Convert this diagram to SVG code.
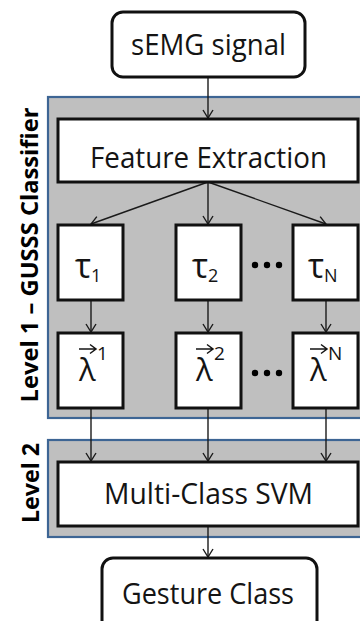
<svg xmlns="http://www.w3.org/2000/svg" width="360" height="621" viewBox="0 0 360 621">
  <defs>
    <marker id="arr" markerUnits="userSpaceOnUse" viewBox="0 0 10 12" markerWidth="10" markerHeight="12" refX="9" refY="6" orient="auto">
      <path d="M1,1 L9,6 L1,11" fill="none" stroke="#1a1a1a" stroke-width="1.4"/>
    </marker>
    <path id="vecarrow" d="M0,0 H17 M11,-4.5 L17,0 L11,4.5" fill="none" stroke="#141414" stroke-width="1.5"/>
  </defs>
  <style>
    .panel { fill: #bfbfbf; stroke: #3d6594; stroke-width: 2.2; }
    .box { fill: #ffffff; stroke: #111111; stroke-width: 3; }
    .lbl { font-family: "Open Sans", "Liberation Sans", sans-serif; font-size: 29px; fill: #141414; text-anchor: middle; }
    .greek { font-family: "Open Sans", "DejaVu Sans", sans-serif; fill: #141414; }
    .side { font-family: "Open Sans", "Liberation Sans", sans-serif; font-weight: bold; font-size: 24px; fill: #000000; text-anchor: middle; }
    .conn { stroke: #1a1a1a; stroke-width: 1.4; fill: none; marker-end: url(#arr); }
    .dot { fill: #000000; }
  </style>

  <rect width="360" height="621" fill="#ffffff"/>

  <g id="panel-level1">
    <rect class="panel" x="48" y="97" width="330" height="321"/>
    <text class="side" transform="translate(38,255) rotate(-90)" textLength="295" lengthAdjust="spacingAndGlyphs">Level 1 – GUSSS Classifier</text>
  </g>
  <g id="panel-level2">
    <rect class="panel" x="48" y="440" width="330" height="97"/>
    <text class="side" transform="translate(39,483) rotate(-90)" textLength="80" lengthAdjust="spacingAndGlyphs">Level 2</text>
  </g>

  <g id="connectors">
    <line class="conn" x1="208" y1="77" x2="208" y2="118"/>
    <line class="conn" x1="208" y1="182" x2="91" y2="224"/>
    <line class="conn" x1="208" y1="182" x2="208" y2="224"/>
    <line class="conn" x1="208" y1="182" x2="326" y2="224"/>
    <line class="conn" x1="91" y1="300" x2="91" y2="332"/>
    <line class="conn" x1="208" y1="300" x2="208" y2="332"/>
    <line class="conn" x1="326" y1="300" x2="326" y2="332"/>
    <line class="conn" x1="91" y1="408" x2="91" y2="461"/>
    <line class="conn" x1="208" y1="408" x2="208" y2="461"/>
    <line class="conn" x1="326" y1="408" x2="326" y2="461"/>
    <line class="conn" x1="208" y1="526" x2="208" y2="557"/>
  </g>

  <g id="semg">
    <rect class="box" x="112" y="12" width="193" height="65" rx="11"/>
    <text class="lbl" x="208.5" y="55" textLength="155" lengthAdjust="spacingAndGlyphs">sEMG signal</text>
  </g>

  <g id="feature-extraction">
    <rect class="box" x="58" y="119" width="300" height="63"/>
    <text class="lbl" x="208.5" y="168" textLength="237" lengthAdjust="spacingAndGlyphs">Feature Extraction</text>
  </g>

  <g id="tau1">
    <rect class="box" x="58" y="225" width="65" height="75"/>
    <text class="greek" x="75" y="278" font-size="34">τ<tspan font-size="18" dy="4">1</tspan></text>
  </g>
  <g id="tau2">
    <rect class="box" x="176" y="225" width="65" height="75"/>
    <text class="greek" x="192" y="278" font-size="34">τ<tspan font-size="18" dy="4">2</tspan></text>
  </g>
  <g id="tauN">
    <rect class="box" x="293" y="225" width="65" height="75"/>
    <text class="greek" x="308" y="278" font-size="34">τ<tspan font-size="18" dy="4">N</tspan></text>
  </g>

  <g id="dots-row1">
    <circle class="dot" cx="255" cy="265" r="3.2"/>
    <circle class="dot" cx="267" cy="265" r="3.2"/>
    <circle class="dot" cx="279" cy="265" r="3.2"/>
  </g>

  <g id="lambda1">
    <rect class="box" x="58" y="333" width="65" height="75"/>
    <text class="greek" x="79" y="381" font-size="31">λ</text>
    <use href="#vecarrow" x="79" y="349"/>
    <text class="greek" x="97" y="360" font-size="19">1</text>
  </g>
  <g id="lambda2">
    <rect class="box" x="176" y="333" width="65" height="75"/>
    <text class="greek" x="196" y="381" font-size="31">λ</text>
    <use href="#vecarrow" x="196" y="349"/>
    <text class="greek" x="214" y="360" font-size="19">2</text>
  </g>
  <g id="lambdaN">
    <rect class="box" x="293" y="333" width="65" height="75"/>
    <text class="greek" x="310" y="381" font-size="31">λ</text>
    <use href="#vecarrow" x="310" y="349"/>
    <text class="greek" x="328" y="360" font-size="19">N</text>
  </g>

  <g id="dots-row2">
    <circle class="dot" cx="255" cy="373" r="3.2"/>
    <circle class="dot" cx="267" cy="373" r="3.2"/>
    <circle class="dot" cx="279" cy="373" r="3.2"/>
  </g>

  <g id="svm">
    <rect class="box" x="58" y="462" width="300" height="64"/>
    <text class="lbl" x="208.5" y="504" textLength="209" lengthAdjust="spacingAndGlyphs">Multi-Class SVM</text>
  </g>

  <g id="gesture-class">
    <rect class="box" x="102" y="558" width="215" height="80" rx="11"/>
    <text class="lbl" x="208" y="604" textLength="172" lengthAdjust="spacingAndGlyphs">Gesture Class</text>
  </g>
</svg>
